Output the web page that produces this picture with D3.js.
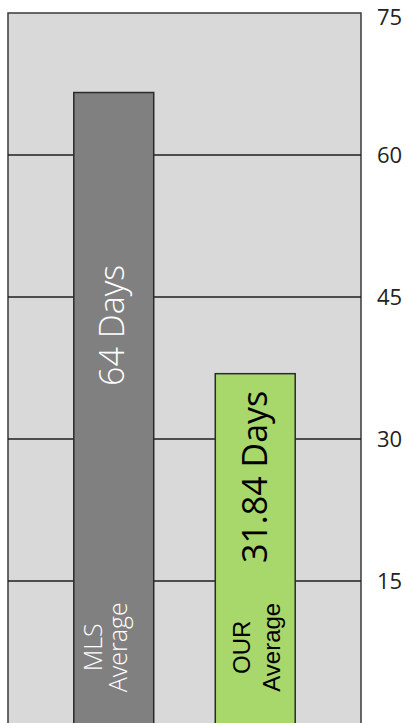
<!DOCTYPE html>
<html>
<head>
<meta charset="utf-8">
<script src="https://cdn.jsdelivr.net/npm/d3@7"></script>
<style>
  html, body { margin: 0; padding: 0; background: #fff; }
  svg { display: block; font-family: "Open Sans", sans-serif; }
</style>
</head>
<body>
<div id="chart"></div>
<script>
// Days on market: MLS average vs ours
const categories = ["MLS", "OUR"];
const values = [66.6, 36.9];
const valueLabels = ["64 Days", "31.84 Days"];
const nameLines = [["MLS", "Average"], ["OUR", "Average"]];
const ticks = [15, 30, 45, 60, 75];

(() => {
    const W = 406, H = 723;
    const plot = { left: 8, right: 361, top: 13, bottom: 723 };

    const svg = d3.select("#chart").append("svg").attr("width", W).attr("height", H);

    const x = d3.scaleBand().domain(categories)
        .range([plot.left, plot.right]).paddingInner(0.435).paddingOuter(0.465);
    const y = d3.scaleLinear().domain([0, 75]).range([plot.bottom, plot.top]);

    // background
    svg.append("rect")
        .attr("x", plot.left).attr("y", plot.top)
        .attr("width", plot.right - plot.left).attr("height", plot.bottom - plot.top + 10)
        .attr("fill", "#d9d9d9").attr("stroke", "#3a3a3a").attr("stroke-width", 1.5);

    // grid
    svg.append("g").selectAll("line")
        .data(ticks.filter(t => t < 75))
        .join("line")
        .attr("x1", plot.left).attr("x2", plot.right)
        .attr("y1", d => y(d)).attr("y2", d => y(d))
        .attr("stroke", "#1e1e1e").attr("stroke-width", 1.4);

    // right axis (top label nudged down so it stays inside)
    const axis = svg.append("g")
        .attr("transform", `translate(${plot.right},0)`)
        .call(d3.axisRight(y).tickValues(ticks).tickSize(0).tickPadding(16));
    axis.select(".domain").remove();
    axis.selectAll("text")
        .attr("dy", d => d === 75 ? "0.52em" : "0.36em")
        .attr("font-size", 22).attr("fill", "#222")
        .attr("font-family", "'Open Sans', sans-serif");

    // bars
    const fills = ["#808080", "#a8d86b"];
    svg.append("g").selectAll("rect")
        .data(categories)
        .join("rect")
        .attr("x", d => x(d))
        .attr("y", (d, i) => y(values[i]))
        .attr("width", x.bandwidth())
        .attr("height", (d, i) => y(0) - y(values[i]) + 10)
        .attr("fill", (d, i) => fills[i])
        .attr("stroke", "#2a2a2a").attr("stroke-width", 1.5);

    // value labels (rotated)
    const labelAt = [42, 26];
    const labelDx = [50, 52];
    const textFill = ["#ffffff", "#000000"];
    const weights = [300, 400];
    svg.append("g").selectAll("text")
        .data(categories)
        .join("text")
        .attr("transform", (d, i) => `translate(${x(d) + labelDx[i]},${y(labelAt[i])}) rotate(-90)`)
        .attr("text-anchor", "middle")
        .attr("font-size", 34)
        .attr("font-weight", (d, i) => weights[i])
        .attr("fill", (d, i) => textFill[i])
        .text((d, i) => valueLabels[i]);

    // category names at the bottom of each bar
    const nameDx = [[28, 53], [35, 65]];
    const nameSize = [25, 24];
    const nameFont = ["'Open Sans', sans-serif", "'Liberation Sans', Arial, sans-serif"];
    categories.forEach((c, i) => {
        svg.append("g").selectAll("text")
            .data(nameLines[i])
            .join("text")
            .attr("transform", (d, j) => `translate(${x(c) + nameDx[i][j]},${y(8)}) rotate(-90)`)
            .attr("text-anchor", "middle")
            .attr("font-family", nameFont[i])
            .attr("font-size", nameSize[i])
            .attr("font-weight", weights[i])
            .attr("fill", textFill[i])
            .text(d => d);
    });
})();
</script>
</body>
</html>
